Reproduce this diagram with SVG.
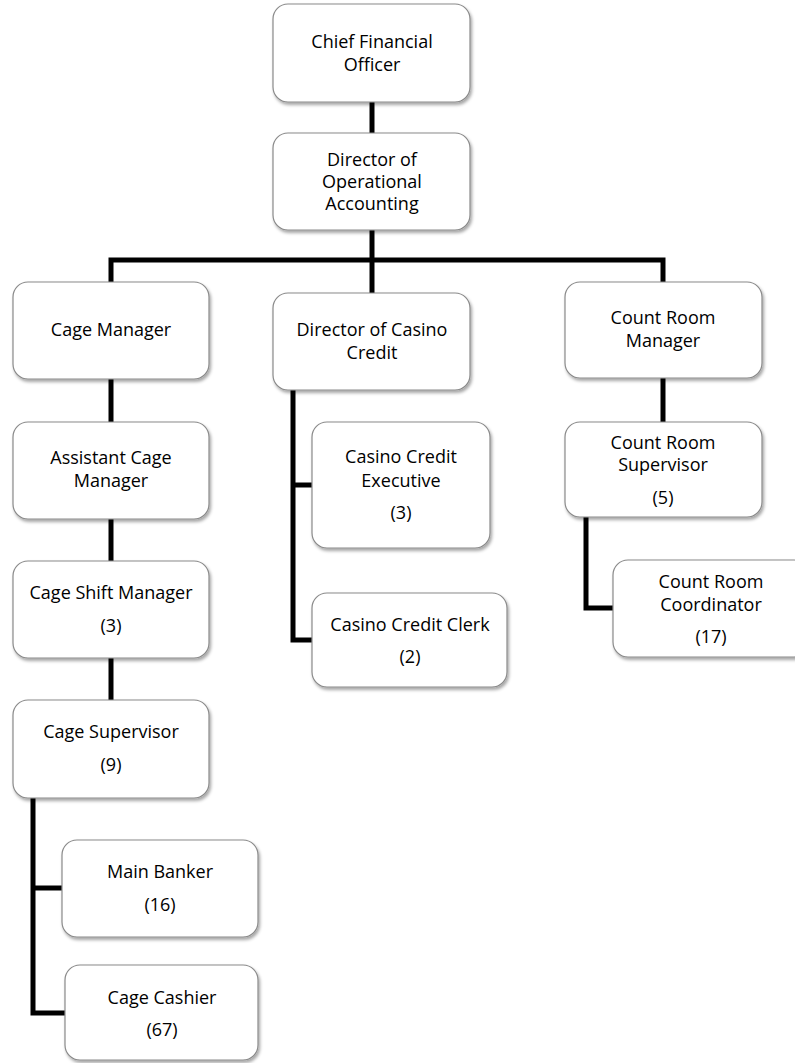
<svg xmlns="http://www.w3.org/2000/svg" width="795" height="1063" viewBox="0 0 795 1063">
<defs>
<filter id="sh" x="-10%" y="-10%" width="120%" height="125%">
<feDropShadow dx="1.5" dy="2.5" stdDeviation="1.5" flood-color="#000" flood-opacity="0.35"/>
</filter>
<style>
.box{fill:#fff;stroke:#8a8a8a;stroke-width:1.2;filter:url(#sh)}
.t{font-family:"Open Sans","Noto Sans","DejaVu Sans",sans-serif;font-size:18px;fill:#000;text-anchor:middle}
.c{fill:none;stroke:#000;stroke-width:5;stroke-linejoin:miter;stroke-linecap:butt}
</style>
</defs>
<rect width="795" height="1063" fill="#fff"/>
<g id="connectors" class="c">
<path d="M372,102V133"/>
<path d="M372,230V293"/>
<path d="M111,282V260H663V282"/>
<path d="M111,379V422"/>
<path d="M111,519V561"/>
<path d="M111,658V700"/>
<path d="M33,798V1013H65"/>
<path d="M33,888H62"/>
<path d="M293,390V640H312"/>
<path d="M293,485H312"/>
<path d="M663,378V422"/>
<path d="M586,517V608H613"/>
</g>
<g id="cfo"><rect class="box" x="273" y="4" width="197" height="98" rx="15"/>
<text class="t" x="372" y="48">Chief Financial</text><text class="t" x="372" y="71">Officer</text></g>
<g id="doa"><rect class="box" x="273" y="133" width="197" height="97" rx="15"/>
<text class="t" x="372" y="166">Director of</text><text class="t" x="372" y="188">Operational</text><text class="t" x="372" y="210">Accounting</text></g>
<g id="cage-manager"><rect class="box" x="13" y="282" width="196" height="97" rx="15"/>
<text class="t" x="111" y="336">Cage Manager</text></g>
<g id="dir-casino-credit"><rect class="box" x="273" y="293" width="197" height="97" rx="15"/>
<text class="t" x="372" y="336">Director of Casino</text><text class="t" x="372" y="359">Credit</text></g>
<g id="count-room-manager"><rect class="box" x="565" y="282" width="197" height="96" rx="15"/>
<text class="t" x="663" y="324">Count Room</text><text class="t" x="663" y="347">Manager</text></g>
<g id="assistant-cage-manager"><rect class="box" x="13" y="422" width="196" height="97" rx="15"/>
<text class="t" x="111" y="464">Assistant Cage</text><text class="t" x="111" y="487">Manager</text></g>
<g id="cage-shift-manager"><rect class="box" x="13" y="561" width="196" height="97" rx="15"/>
<text class="t" x="111" y="599">Cage Shift Manager</text><text class="t" x="111" y="632">(3)</text></g>
<g id="cage-supervisor"><rect class="box" x="13" y="700" width="196" height="98" rx="15"/>
<text class="t" x="111" y="738">Cage Supervisor</text><text class="t" x="111" y="771">(9)</text></g>
<g id="main-banker"><rect class="box" x="62" y="840" width="196" height="97" rx="15"/>
<text class="t" x="160" y="878">Main Banker</text><text class="t" x="160" y="911">(16)</text></g>
<g id="cage-cashier"><rect class="box" x="65" y="965" width="193" height="95" rx="15"/>
<text class="t" x="162" y="1004">Cage Cashier</text><text class="t" x="162" y="1036">(67)</text></g>
<g id="casino-credit-executive"><rect class="box" x="312" y="422" width="178" height="126" rx="15"/>
<text class="t" x="401" y="463">Casino Credit</text><text class="t" x="401" y="487">Executive</text><text class="t" x="401" y="519">(3)</text></g>
<g id="casino-credit-clerk"><rect class="box" x="312" y="593" width="195" height="94" rx="15"/>
<text class="t" x="410" y="631">Casino Credit Clerk</text><text class="t" x="410" y="663">(2)</text></g>
<g id="count-room-supervisor"><rect class="box" x="565" y="422" width="197" height="95" rx="15"/>
<text class="t" x="663" y="449">Count Room</text><text class="t" x="663" y="471">Supervisor</text><text class="t" x="663" y="504">(5)</text></g>
<g id="count-room-coordinator"><rect class="box" x="613" y="560" width="196" height="97" rx="15"/>
<text class="t" x="711" y="588">Count Room</text><text class="t" x="711" y="611">Coordinator</text><text class="t" x="711" y="643">(17)</text></g>
</svg>
